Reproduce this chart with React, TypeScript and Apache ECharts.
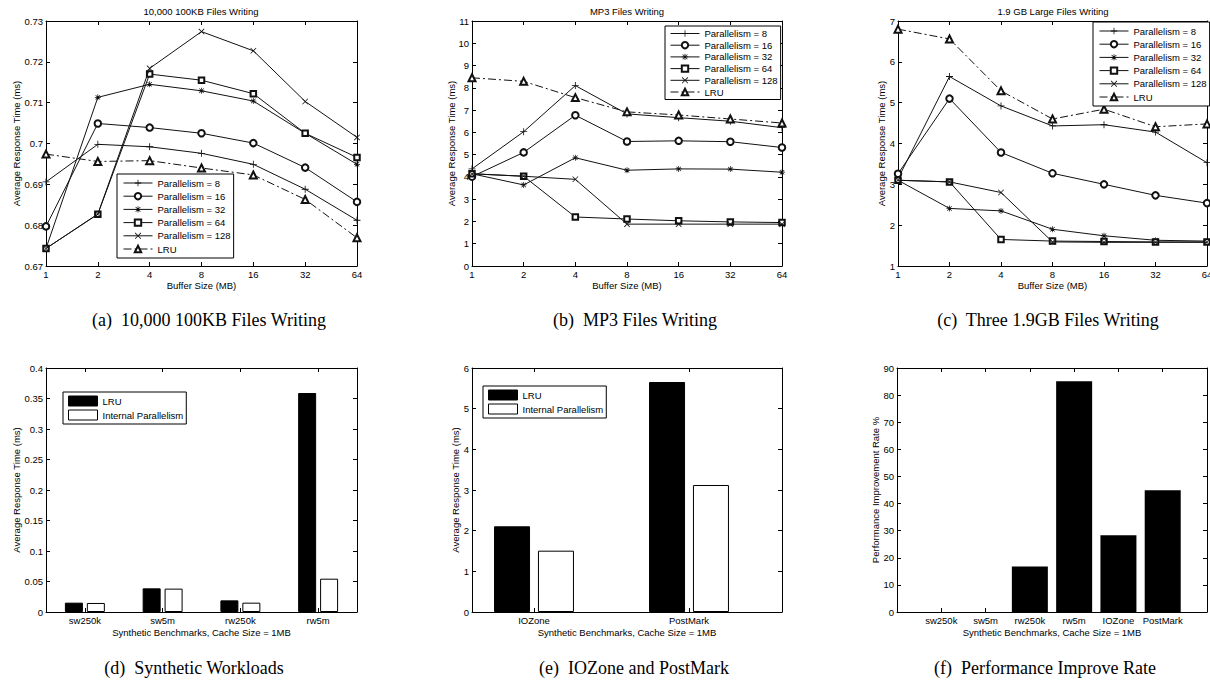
import React, { useEffect, useRef } from 'react';
import * as echarts from 'echarts';

// ---------- data ----------
const bufferSizes = ['1', '2', '4', '8', '16', '32', '64'];
const seriesNames = ['Parallelism = 8', 'Parallelism = 16', 'Parallelism = 32', 'Parallelism = 64', 'Parallelism = 128', 'LRU'];

// (a) 10,000 100KB Files Writing
const smallP8 = [0.6906, 0.6998, 0.6992, 0.6976, 0.6949, 0.6888, 0.6812];
const smallP16 = [0.6797, 0.7049, 0.7039, 0.7025, 0.7001, 0.6941, 0.6857];
const smallP32 = [0.6743, 0.7113, 0.7145, 0.7129, 0.7104, 0.7025, 0.6949];
const smallP64 = [0.6743, 0.6827, 0.717, 0.7155, 0.7122, 0.7025, 0.6966];
const smallP128 = [0.6743, 0.6827, 0.7184, 0.7274, 0.7227, 0.7103, 0.7015];
const smallLRU = [0.6974, 0.6956, 0.6958, 0.694, 0.6923, 0.6863, 0.6769];

// (b) MP3 Files Writing
const mp3P8 = [4.36, 6.03, 8.1, 6.83, 6.66, 6.5, 6.21];
const mp3P16 = [4.01, 5.1, 6.77, 5.59, 5.62, 5.58, 5.32];
const mp3P32 = [4.14, 3.64, 4.86, 4.3, 4.36, 4.35, 4.21];
const mp3P64 = [4.14, 4.03, 2.2, 2.11, 2.03, 1.98, 1.95];
const mp3P128 = [4.14, 4.03, 3.89, 1.88, 1.88, 1.88, 1.88];
const mp3LRU = [8.45, 8.29, 7.56, 6.92, 6.78, 6.6, 6.42];

// (c) 1.9 GB Large Files Writing
const largeP8 = [3.14, 5.64, 4.92, 4.43, 4.46, 4.28, 3.53];
const largeP16 = [3.26, 5.1, 3.78, 3.27, 3.0, 2.73, 2.54];
const largeP32 = [3.1, 2.41, 2.35, 1.9, 1.74, 1.63, 1.61];
const largeP64 = [3.1, 3.06, 1.65, 1.61, 1.6, 1.59, 1.59];
const largeP128 = [3.1, 3.06, 2.8, 1.59, 1.58, 1.58, 1.58];
const largeLRU = [6.8, 6.56, 5.29, 4.6, 4.84, 4.41, 4.48];

// (d) Synthetic workloads
const synthCats = ['sw250k', 'sw5m', 'rw250k', 'rw5m'];
const synthLRU = [0.0153, 0.0388, 0.0191, 0.359];
const synthIP = [0.0148, 0.0383, 0.0153, 0.0546];

// (e) IOZone and PostMark
const benchCats = ['IOZone', 'PostMark'];
const benchLRU = [2.107, 5.656];
const benchIP = [1.508, 3.123];

// (f) Performance improve rate
const rateCats = ['sw250k', 'sw5m', 'rw250k', 'rw5m', 'IOZone', 'PostMark'];
const rateValues = [0, 0, 16.8, 85.1, 28.3, 44.9];

// ---------- styling ----------
const FONT = '"Liberation Sans", Arial, Helvetica, sans-serif';
const SERIF = '"Liberation Serif", "Times New Roman", serif';
const FS = 9.5;
const INK = '#000';
const LINE = '#111';

const PLUS = 'path://M4.4,0H5.6V10H4.4Z M0,4.4H10V5.6H0Z';
const CROSS = 'path://M0,0.85L0.85,0L10,9.15L9.15,10Z M9.15,0L10,0.85L0.85,10L0,9.15Z';
const STAR = 'path://M4.4,0H5.6V10H4.4Z M0,4.4H10V5.6H0Z M0.9,1.7L1.7,0.9L9.1,8.3L8.3,9.1Z M8.3,0.9L9.1,1.7L1.7,9.1L0.9,8.3Z';

const markers = [
  { symbol: PLUS, size: 7, empty: false },
  { symbol: 'emptyCircle', size: 6.5, empty: true },
  { symbol: STAR, size: 6, empty: false },
  { symbol: 'emptyRect', size: 5.5, empty: true },
  { symbol: CROSS, size: 6, empty: false },
  { symbol: 'emptyTriangle', size: 7, empty: true },
];

const lineCharts = [
  {
    grid: { left: 46, top: 21, width: 311, height: 245 },
    data: [smallP8, smallP16, smallP32, smallP64, smallP128, smallLRU],
    min: 0.67, max: 0.73, interval: 0.01, yNameGap: 25,
    legend: { left: 117, top: 174, padding: [3, 3, 3, 6], lineHeight: 12, itemGap: 1.2 },
  },
  {
    grid: { left: 472, top: 21, width: 310, height: 245 },
    data: [mp3P8, mp3P16, mp3P32, mp3P64, mp3P128, mp3LRU],
    min: 0, max: 11, interval: 1, yNameGap: 16,
    legend: { left: 665, top: 26, padding: [2, 3, 2, 5], lineHeight: 11, itemGap: 0.7 },
  },
  {
    grid: { left: 898, top: 21, width: 309, height: 245 },
    data: [largeP8, largeP16, largeP32, largeP64, largeP128, largeLRU],
    min: 1, max: 7, interval: 1, yNameGap: 12,
    legend: { left: 1093, top: 22, padding: [3, 3, 3, 6], lineHeight: 12, itemGap: 1.2 },
  },
];

const barGrids = [
  { left: 46, top: 368, width: 311, height: 244 },
  { left: 472, top: 368, width: 310, height: 244 },
  { left: 897, top: 368, width: 310, height: 244 },
];

function base(extra: any = {}) {
  return {
    axisLine: { show: true, onZero: false, lineStyle: { color: INK, width: 1 } },
    axisTick: { show: true, inside: true, length: 4, lineStyle: { color: INK, width: 1 } },
    splitLine: { show: false },
    axisLabel: { color: INK, fontSize: FS, fontFamily: FONT, margin: 3 },
    nameTextStyle: { color: INK, fontSize: FS, fontFamily: FONT },
    nameMoveOverlap: false,
    ...extra,
  };
}

function buildOption() {
  const grid: any[] = [];
  const xAxis: any[] = [];
  const yAxis: any[] = [];
  const series: any[] = [];
  const legend: any[] = [];

  lineCharts.forEach((lc, i) => {
    grid.push({ ...lc.grid, show: false, outerBoundsMode: 'none' });
    xAxis.push(base({ gridIndex: i, type: 'category', data: bufferSizes, boundaryGap: false, position: 'bottom', name: 'Buffer Size (MB)', nameLocation: 'middle', nameGap: 14 }));
    const top = base({ gridIndex: i, type: 'category', data: bufferSizes, boundaryGap: false, position: 'top' });
    top.axisLabel = { show: false };
    xAxis.push(top);
    yAxis.push(base({ gridIndex: i, type: 'value', min: lc.min, max: lc.max, interval: lc.interval, position: 'left', name: 'Average Response Time (ms)', nameLocation: 'middle', nameGap: lc.yNameGap }));
    const right = base({ gridIndex: i, type: 'value', min: lc.min, max: lc.max, interval: lc.interval, position: 'right' });
    right.axisLabel = { show: false };
    yAxis.push(right);
    lc.data.forEach((vals, k) => {
      const m = markers[k];
      series.push({
        type: 'line',
        name: seriesNames[k],
        xAxisIndex: 2 * i,
        yAxisIndex: 2 * i,
        data: vals,
        color: LINE,
        symbol: m.symbol,
        symbolSize: m.size,
        showAllSymbol: true,
        lineStyle: { color: LINE, width: 1, type: k === 5 ? [8, 3, 2, 3] : 'solid' },
        itemStyle: m.empty ? { color: LINE, borderColor: LINE, borderWidth: 1 } : { color: LINE, borderWidth: 0 },
        emphasis: { disabled: true },
        z: 2 + k * 0.01,
      });
    });
    legend.push({
      orient: 'vertical',
      left: lc.legend.left,
      top: lc.legend.top,
      padding: lc.legend.padding,
      itemWidth: 29,
      itemHeight: 8,
      itemGap: lc.legend.itemGap,
      borderColor: INK,
      borderWidth: 1,
      borderRadius: 0,
      backgroundColor: '#fff',
      selectedMode: false,
      itemStyle: { borderWidth: 1 },
      lineStyle: { width: 1 },
      textStyle: { color: INK, fontSize: FS, fontFamily: FONT, lineHeight: lc.legend.lineHeight },
      data: seriesNames,
    });
  });

  // (d)
  const gd = 3;
  grid.push({ ...barGrids[0], show: false, outerBoundsMode: 'none' });
  xAxis.push(base({ gridIndex: gd, type: 'category', data: synthCats, position: 'bottom', name: 'Synthetic Benchmarks, Cache Size = 1MB', nameLocation: 'middle', nameGap: 15, axisTick: { show: true, inside: true, length: 4, alignWithLabel: true, lineStyle: { color: INK } } }));
  xAxis.push(base({ gridIndex: gd, type: 'category', data: synthCats, position: 'top', axisLabel: { show: false }, axisTick: { show: true, inside: true, length: 4, alignWithLabel: true, lineStyle: { color: INK } } }));
  yAxis.push(base({ gridIndex: gd, type: 'value', min: 0, max: 0.4, interval: 0.05, position: 'left', name: 'Average Response Time (ms)', nameLocation: 'middle', nameGap: 25 }));
  yAxis.push(base({ gridIndex: gd, type: 'value', min: 0, max: 0.4, interval: 0.05, position: 'right', axisLabel: { show: false } }));

  // (e)
  const ge = 4;
  grid.push({ ...barGrids[1], show: false, outerBoundsMode: 'none' });
  const benchTicks = benchCats.map((_, k) => k + 1);
  xAxis.push(base({
    gridIndex: ge, type: 'value', min: 0.6, max: 2.6, position: 'bottom',
    name: 'Synthetic Benchmarks, Cache Size = 1MB', nameLocation: 'middle', nameGap: 15,
    axisTick: { show: true, inside: true, length: 4, customValues: benchTicks, lineStyle: { color: INK } },
    axisLabel: { color: INK, fontSize: FS, fontFamily: FONT, margin: 3, customValues: benchTicks, formatter: (v: number) => benchCats[Math.round(v) - 1] || '' },
  }));
  xAxis.push(base({
    gridIndex: ge, type: 'value', min: 0.6, max: 2.6, position: 'top',
    axisTick: { show: true, inside: true, length: 4, customValues: benchTicks, lineStyle: { color: INK } },
    axisLabel: { show: false },
  }));
  yAxis.push(base({ gridIndex: ge, type: 'value', min: 0, max: 6, interval: 1, position: 'left', name: 'Average Response Time (ms)', nameLocation: 'middle', nameGap: 12 }));
  yAxis.push(base({ gridIndex: ge, type: 'value', min: 0, max: 6, interval: 1, position: 'right', axisLabel: { show: false } }));

  // (f)
  const gf = 5;
  grid.push({ ...barGrids[2], show: false, outerBoundsMode: 'none' });
  const rateTicks = rateCats.map((_, k) => k + 1);
  xAxis.push(base({
    gridIndex: gf, type: 'value', min: 0, max: 7, position: 'bottom',
    name: 'Synthetic Benchmarks, Cache Size = 1MB', nameLocation: 'middle', nameGap: 15,
    axisTick: { show: true, inside: true, length: 4, customValues: rateTicks, lineStyle: { color: INK } },
    axisLabel: { color: INK, fontSize: FS, fontFamily: FONT, margin: 3, customValues: rateTicks, formatter: (v: number) => rateCats[Math.round(v) - 1] || '' },
  }));
  xAxis.push(base({
    gridIndex: gf, type: 'value', min: 0, max: 7, position: 'top',
    axisTick: { show: true, inside: true, length: 4, customValues: rateTicks, lineStyle: { color: INK } },
    axisLabel: { show: false },
  }));
  yAxis.push(base({ gridIndex: gf, type: 'value', min: 0, max: 90, interval: 10, position: 'left', name: 'Performance Improvement Rate %', nameLocation: 'middle', nameGap: 17 }));
  yAxis.push(base({ gridIndex: gf, type: 'value', min: 0, max: 90, interval: 10, position: 'right', axisLabel: { show: false } }));

  const lruStyle = { color: INK, borderColor: INK, borderWidth: 1 };
  const ipStyle = { color: '#fff', borderColor: INK, borderWidth: 1 };

  series.push({ type: 'bar', name: 'LRU', xAxisIndex: 2 * gd, yAxisIndex: 2 * gd, data: synthLRU, barWidth: 18, barGap: '22%', itemStyle: lruStyle, emphasis: { disabled: true } });
  series.push({ type: 'bar', name: 'Internal Parallelism', xAxisIndex: 2 * gd, yAxisIndex: 2 * gd, data: synthIP, barWidth: 18, barGap: '22%', itemStyle: ipStyle, emphasis: { disabled: true } });

  series.push({ type: 'bar', name: 'LRU', xAxisIndex: 2 * ge, yAxisIndex: 2 * ge, data: benchLRU.map((v, k) => [k + 1, v]), barWidth: 36, barGap: '22%', itemStyle: lruStyle, emphasis: { disabled: true } });
  series.push({ type: 'bar', name: 'Internal Parallelism', xAxisIndex: 2 * ge, yAxisIndex: 2 * ge, data: benchIP.map((v, k) => [k + 1, v]), barWidth: 36, barGap: '22%', itemStyle: ipStyle, emphasis: { disabled: true } });

  series.push({ type: 'bar', name: 'Improvement Rate', xAxisIndex: 2 * gf, yAxisIndex: 2 * gf, data: rateValues.map((v, k) => [k + 1, v]), barWidth: 36, itemStyle: { color: INK, borderWidth: 0 }, emphasis: { disabled: true } });

  const barLegendData = [
    { name: 'LRU', icon: 'rect', itemStyle: { color: INK, borderColor: INK, borderWidth: 1 } },
    { name: 'Internal Parallelism', icon: 'rect', itemStyle: { color: '#fff', borderColor: INK, borderWidth: 1 } },
  ];
  const barLegendBase = {
    orient: 'vertical', itemWidth: 29, itemHeight: 10, itemGap: 2,
    borderColor: INK, borderWidth: 1, borderRadius: 0, backgroundColor: '#fff', selectedMode: false,
    padding: [3, 3, 3, 5],
    textStyle: { color: INK, fontSize: FS, fontFamily: FONT, lineHeight: 12 },
    data: barLegendData,
  };
  legend.push({ ...barLegendBase, left: 63, top: 392 });
  legend.push({ ...barLegendBase, left: 483, top: 386 });

  const txt = (text: string, x: number, y: number, size: number, family: string) => ({
    type: 'text', x, y, silent: true,
    style: { text, fontSize: size, fontFamily: family, fill: INK, align: 'center', verticalAlign: 'middle' },
  });

  const graphic = [
    txt('10,000 100KB Files Writing', 201, 11, FS, FONT),
    txt('MP3 Files Writing', 627, 11, FS, FONT),
    txt('1.9 GB Large Files Writing', 1053, 11, FS, FONT),
    txt('(a)  10,000 100KB Files Writing', 209, 320, 18, SERIF),
    txt('(b)  MP3 Files Writing', 635, 320, 18, SERIF),
    txt('(c)  Three 1.9GB Files Writing', 1048, 320, 18, SERIF),
    txt('(d)  Synthetic Workloads', 194, 668, 18, SERIF),
    txt('(e)  IOZone and PostMark', 634, 668, 18, SERIF),
    txt('(f)  Performance Improve Rate', 1045, 668, 18, SERIF),
  ];

  return {
    animation: false,
    backgroundColor: '#fff',
    textStyle: { fontFamily: FONT },
    grid,
    xAxis,
    yAxis,
    legend,
    series,
    graphic,
  };
}

export default function App() {
  const ref = useRef<HTMLDivElement>(null);
  useEffect(() => {
    const chart = echarts.init(ref.current as HTMLDivElement, null, { renderer: 'svg' });
    chart.setOption(buildOption() as any);
    return () => chart.dispose();
  }, []);
  return (
    <div
      ref={ref}
      style={{ position: 'fixed', left: 0, top: 0, width: 1210, height: 681, background: '#fff' }}
    />
  );
}
